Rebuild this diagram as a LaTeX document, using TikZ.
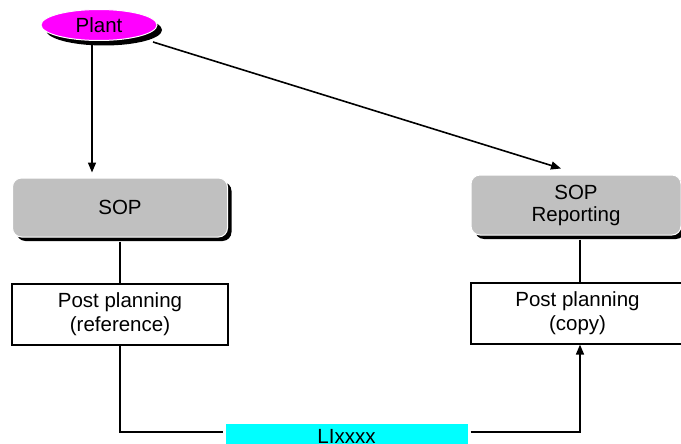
\documentclass[tikz,border=0pt]{standalone}
\usepackage{fontspec}
\setmainfont{Liberation Sans}
\usetikzlibrary{shapes.geometric,shadows,arrows.meta}
\definecolor{sopgray}{HTML}{C0C0C0}
\definecolor{plantmag}{HTML}{FF00FF}
\definecolor{licyan}{HTML}{00FFFF}
\begin{document}
\begin{tikzpicture}[x=1pt,y=-1pt,
 lbl/.style={font=\fontsize{20.5}{22}\selectfont, align=center, inner sep=0pt},
 shad/.style={drop shadow={shadow xshift=#1, shadow yshift=-#1, fill=black, opacity=1}},
 rbox/.style={lbl, draw=white, line width=1pt, fill=sopgray, rounded corners=9pt, shad=4pt},
 pbox/.style={lbl, draw=black, line width=1.2pt, fill=white},
 conn/.style={line width=1.6pt},
 tip/.style={-{Triangle[length=10pt,width=8pt]}}
]
\useasboundingbox (0,0) rectangle (681,444);
\clip (0,0) rectangle (681,444);

\node[ellipse, lbl, fill=plantmag, draw=white, line width=1pt,
      minimum width=116pt, minimum height=31pt, shad=5pt] (plant) at (99,25) {Plant};

\node[rbox, minimum width=215pt, minimum height=59pt] (sop) at (120,207.5) {SOP};
\node[rbox, minimum width=210pt, minimum height=60pt] (sopr) at (576,205) {SOP\\Reporting};

\node[pbox, minimum width=216pt, minimum height=61pt, font=\fontsize{20.5}{24}\selectfont] (ppref) at (120,314.5) {Post planning\\(reference)};
\node[pbox, minimum width=213pt, minimum height=61pt, font=\fontsize{20.5}{24}\selectfont] (ppcopy) at (577.5,313.5) {Post planning\\(copy)};

\node[lbl, fill=licyan, draw=white, line width=1pt, minimum width=243pt, minimum height=27pt] (li) at (346.5,436.5) {LIxxxx};

\draw[conn,tip] ([xshift=-7pt,yshift=-1pt]plant.south) -- ([xshift=-28pt,yshift=5pt]sop.north);
\draw[conn,tip] ([xshift=54pt,yshift=-17pt]plant.center) -- ([xshift=-15pt,yshift=6pt]sopr.north);
\draw[conn] ([yshift=-4pt]sop.south) -- (ppref.north);
\draw[conn] ([xshift=4pt,yshift=-4pt]sopr.south) -- ([xshift=4pt]sopr.south |- ppcopy.north);
\draw[conn] (ppref.south) -- ([yshift=4.5pt]ppref.south |- li.west) -- ([xshift=-2pt,yshift=4.5pt]li.west);
\draw[conn,tip] ([xshift=2pt,yshift=4.5pt]li.east) -| ([xshift=2.5pt]ppcopy.south);
\end{tikzpicture}
\end{document}
